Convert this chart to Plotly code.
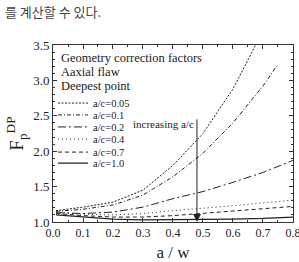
import plotly.graph_objects as go

# ---- data ----
aw_full = [0.01, 0.1, 0.2, 0.3, 0.4, 0.5, 0.6, 0.7, 0.8]
aw_005 = [0.01, 0.1, 0.2, 0.3, 0.4, 0.5, 0.6, 0.7]
aw_01 = [0.01, 0.1, 0.2, 0.3, 0.4, 0.5, 0.6, 0.7, 0.75]

f_005 = [1.16, 1.21, 1.28, 1.45, 1.80, 2.25, 2.88, 3.70]
f_01 = [1.15, 1.18, 1.24, 1.38, 1.64, 1.97, 2.40, 2.92, 3.23]
f_02 = [1.13, 1.12, 1.14, 1.21, 1.33, 1.43, 1.56, 1.70, 1.87]
f_04 = [1.14, 1.11, 1.10, 1.12, 1.16, 1.19, 1.23, 1.27, 1.31]
f_07 = [1.12, 1.09, 1.07, 1.07, 1.09, 1.12, 1.15, 1.18, 1.22]
f_10 = [1.10, 1.07, 1.04, 1.03, 1.03, 1.03, 1.04, 1.05, 1.07]

labels = ["a/c=0.05", "a/c=0.1", "a/c=0.2", "a/c=0.4", "a/c=0.7", "a/c=1.0"]
xs = [aw_005, aw_01, aw_full, aw_full, aw_full, aw_full]
ys = [f_005, f_01, f_02, f_04, f_07, f_10]
dashes = ["2px,1.5px", "4px,2px,1px,2px", "8px,3px,2px,3px", "1px,3px", "4px,3px", "solid"]
widths = [1, 1, 1, 1, 1, 1.3]

x_ticks = [0.0, 0.1, 0.2, 0.3, 0.4, 0.5, 0.6, 0.7, 0.8]
y_ticks = [1.0, 1.5, 2.0, 2.5, 3.0, 3.5]

SERIF = "Liberation Serif"

# one small legend per series so the rows can sit as close as in the reference
legend_rows = [0.672, 0.605, 0.537, 0.469, 0.395, 0.333]

fig = go.Figure()
for i, (x, y, name, d, w) in enumerate(zip(xs, ys, labels, dashes, widths)):
    lg = "legend" if i == 0 else f"legend{i + 1}"
    fig.add_trace(go.Scatter(x=x, y=y, mode="lines", name=name, legend=lg,
                             line=dict(color="#222222", width=w, dash=d)))

legend_style = dict(x=0.0, xanchor="left", yanchor="middle", bgcolor="rgba(0,0,0,0)",
                    font=dict(family=SERIF, size=10.5, color="#222"), itemwidth=30,
                    borderwidth=0)
layout_legends = {}
for i, yy in enumerate(legend_rows):
    key = "legend" if i == 0 else f"legend{i + 1}"
    layout_legends[key] = dict(y=yy, **legend_style)

axis_common = dict(showline=True, linecolor="#333333", linewidth=1, mirror="ticks",
                   ticks="inside", ticklen=4, tickcolor="#333333", showgrid=False,
                   zeroline=False, ticklabeloverflow="allow")

fig.update_xaxes(range=[0, 0.8001], tickvals=x_ticks, ticktext=[f"{v:.1f}" for v in x_ticks],
                 minor=dict(ticks="inside", ticklen=2, dtick=0.05, tickcolor="#333"),
                 tickfont=dict(family=SERIF, size=12, color="#222"),
                 title=dict(text="a / w", font=dict(family=SERIF, size=17, color="#222"),
                            standoff=10),
                 automargin=False,
                 **axis_common)
fig.update_yaxes(range=[1.0, 3.5], tickvals=y_ticks, ticktext=[f"{v:.1f}" for v in y_ticks],
                 minor=dict(ticks="inside", ticklen=2, dtick=0.1, tickcolor="#333"),
                 tickfont=dict(family=SERIF, size=13, color="#222"),
                 title=dict(text="F<sub>p</sub><sup>DP</sup>",
                            font=dict(family=SERIF, size=19, color="#222"), standoff=4),
                 **axis_common)

# text block inside the plot
for txt, yy in [("Geometry correction factors", 3.32), ("Aaxial flaw", 3.12),
                ("Deepest point", 2.92)]:
    fig.add_annotation(x=0.02, y=yy, xref="x", yref="y", text=txt, showarrow=False,
                       xanchor="left", yanchor="middle",
                       font=dict(family=SERIF, size=12.5, color="#222"))

# arrow "increasing a/c"
fig.add_annotation(x=0.48, y=1.0, ax=0.48, ay=2.47, xref="x", yref="y",
                   axref="x", ayref="y", text="", showarrow=True,
                   arrowhead=2, arrowsize=1.6, arrowwidth=1, arrowcolor="#222")
fig.add_annotation(x=0.476, y=2.38, xref="x", yref="y", text="increasing a/c",
                   showarrow=False, xanchor="right", yanchor="middle",
                   font=dict(family=SERIF, size=11, color="#222"))

# Korean caption fragment at top
fig.add_annotation(x=0, y=1, xref="paper", yref="paper", text="를 계산할 수 있다.",
                   showarrow=False, xanchor="left", yanchor="top",
                   xshift=-50, yshift=45,
                   font=dict(family="Noto Sans CJK KR", size=13, color="#444"))

fig.update_layout(
    width=299, height=262,
    margin=dict(l=53, r=6, t=45, b=40),
    paper_bgcolor="white", plot_bgcolor="white",
    showlegend=True,
    **layout_legends,
)

fig.write_html("out.html")
